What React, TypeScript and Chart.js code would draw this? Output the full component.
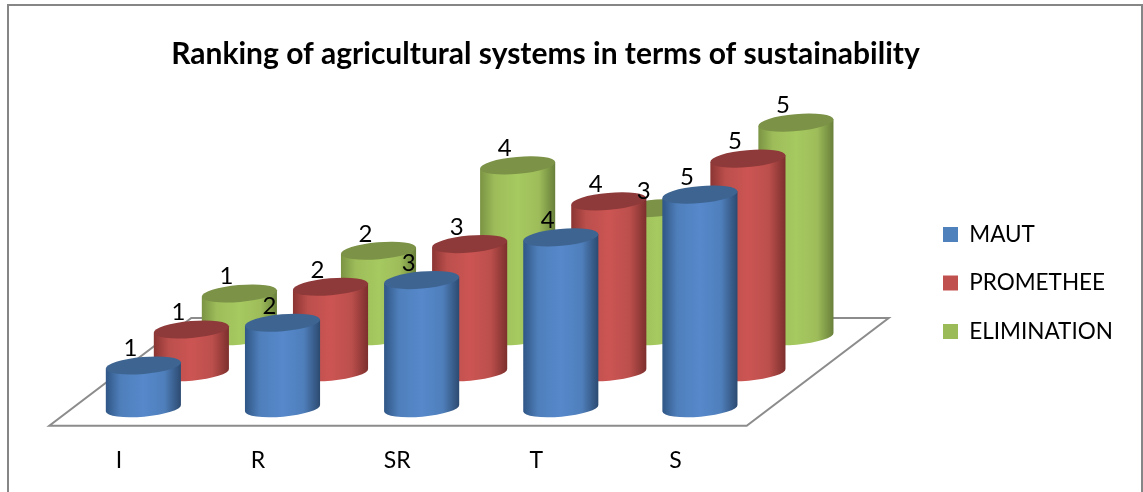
import React, { useEffect, useRef } from "react";
import { Chart, registerables } from "chart.js";

Chart.register(...registerables);

const chartTitle = "Ranking of agricultural systems in terms of sustainability";
const categories = ["I", "R", "SR", "T", "S"];
const maut = [1, 2, 3, 4, 5];
const promethee = [1, 2, 3, 4, 5];
const elimination = [1, 2, 4, 3, 5];

const FONT = "Lato, 'Open Sans', sans-serif";
const W = 1143;
const H = 492;

const shades = [
  { left: "#2f5685", mid: "#4f7fbb", centre: "#5688cb", right: "#2c4a70", top: "#3e6592" },
  { left: "#8a3533", mid: "#bb4f4c", centre: "#cc5553", right: "#7c2f2d", top: "#8f3a3a" },
  { left: "#7a9343", mid: "#9ebd5a", centre: "#a6c960", right: "#687f3a", top: "#7b9247" },
];

const TILT = (-5 * Math.PI) / 180;
const RX = 37.7;
const RY = 8.5;
const STEP_X = 48;
const STEP_Y = 36;
const FRONT_X = 24.5;
const FRONT_Y = 17.5;

const scene = {
  id: "scene",
  beforeLayout(chart: any) {
    const legend = chart.legend;
    if (legend && !legend.__zeroWidth) {
      const fit = legend.fit.bind(legend);
      legend.fit = () => {
        fit();
        legend.width = 0;
      };
      legend.__zeroWidth = true;
    }
  },
  beforeDraw(chart: any) {
    const { ctx } = chart;
    ctx.save();
    ctx.fillStyle = "#ffffff";
    ctx.fillRect(0, 0, W, H);
    ctx.strokeStyle = "#868686";
    ctx.lineWidth = 2;
    ctx.strokeRect(8, 5, 1134, 520);
    ctx.restore();
    const legend = chart.legend;
    legend.left = 917;
    legend.right = 1143;
    legend.top = 102;
    legend.bottom = 464;
    const title = chart.titleBlock;
    title.left = 0;
    title.right = 1091;
  },
  beforeDatasetsDraw(chart: any) {
    const { ctx, chartArea } = chart;
    const { left, right, bottom } = chartArea;
    const bx = 142;
    const by = 107.7;
    const floorRight = right + 1.7;
    ctx.save();
    ctx.beginPath();
    ctx.moveTo(left, bottom);
    ctx.lineTo(floorRight, bottom);
    ctx.lineTo(floorRight + bx, bottom - by);
    ctx.lineTo(left + bx, bottom - by);
    ctx.closePath();
    ctx.fillStyle = "#ffffff";
    ctx.fill();
    ctx.strokeStyle = "#8c8c8c";
    ctx.lineWidth = 2;
    ctx.stroke();

    const sideX = RX * Math.cos(TILT);
    const sideY = RX * Math.sin(TILT);
    for (let d = chart.data.datasets.length - 1; d >= 0; d--) {
      const s = shades[d];
      const meta = chart.getDatasetMeta(d);
      const ox = FRONT_X + STEP_X * d;
      const oy = -FRONT_Y - STEP_Y * d;
      meta.data.forEach((bar: any) => {
        const cx = bar.x + ox;
        const top = bar.y + oy;
        const base = bar.base + oy;
        const g = ctx.createLinearGradient(cx - RX, 0, cx + RX, 0);
        g.addColorStop(0, s.left);
        g.addColorStop(0.2, s.mid);
        g.addColorStop(0.5, s.centre);
        g.addColorStop(0.78, s.mid);
        g.addColorStop(1, s.right);
        ctx.beginPath();
        ctx.moveTo(cx - sideX, top - sideY);
        ctx.lineTo(cx - sideX, base - sideY);
        ctx.ellipse(cx, base, RX, RY, TILT, Math.PI, 0, true);
        ctx.lineTo(cx + sideX, top + sideY);
        ctx.closePath();
        ctx.fillStyle = g;
        ctx.fill();
        ctx.beginPath();
        ctx.ellipse(cx, top, RX, RY, TILT, 0, Math.PI * 2);
        ctx.fillStyle = s.top;
        ctx.fill();
      });
    }

    ctx.fillStyle = "#000000";
    ctx.font = `24px ${FONT}`;
    ctx.textAlign = "center";
    ctx.textBaseline = "middle";
    for (let d = chart.data.datasets.length - 1; d >= 0; d--) {
      const meta = chart.getDatasetMeta(d);
      const ox = FRONT_X + STEP_X * d;
      const oy = -FRONT_Y - STEP_Y * d;
      meta.data.forEach((bar: any, i: number) => {
        ctx.fillText(String(chart.data.datasets[d].data[i]), bar.x + ox - 13, bar.y + oy - 17);
      });
    }
    ctx.restore();
    return false;
  },
};

export default function App() {
  const ref = useRef<HTMLCanvasElement>(null);
  useEffect(() => {
    const chart = new Chart(ref.current as HTMLCanvasElement, {
      type: "bar",
      data: {
        labels: categories,
        datasets: [
          { label: "MAUT", data: maut, backgroundColor: "#4f81bd", borderWidth: 0 },
          { label: "PROMETHEE", data: promethee, backgroundColor: "#c0504d", borderWidth: 0 },
          { label: "ELIMINATION", data: elimination, backgroundColor: "#9bbb59", borderWidth: 0 },
        ],
      },
      options: {
        responsive: false,
        animation: false,
        layout: { padding: { left: 49.3, right: 398, top: 0, bottom: 0 } },
        datasets: { bar: { grouped: false, barThickness: 75 } },
        scales: {
          x: {
            grid: { display: false },
            border: { display: false },
            ticks: {
              color: "#000000",
              font: { family: FONT, size: 23 },
              padding: 13,
              maxRotation: 0,
            },
            afterFit: (s: any) => {
              s.height = 66.3;
            },
          },
          y: { display: false, min: 0, max: 8 },
        },
        plugins: {
          title: {
            display: true,
            text: chartTitle,
            color: "#000000",
            font: { family: FONT, size: 30, weight: "bold", lineHeight: 1.2 },
            padding: { top: 36, bottom: 12 },
          },
          legend: {
            position: "right",
            fullSize: false,
            labels: {
              color: "#000000",
              boxWidth: 15,
              boxHeight: 15,
              padding: 26,
              font: { family: FONT, size: 22.5 },
            },
          },
          tooltip: { enabled: false },
        },
      } as any,
      plugins: [scene],
    });
    return () => chart.destroy();
  }, []);
  return (
    <div style={{ position: "absolute", left: 0, top: 0, width: W, height: H, overflow: "hidden" }}>
      <canvas ref={ref} width={W} height={H} style={{ display: "block" }} />
    </div>
  );
}
